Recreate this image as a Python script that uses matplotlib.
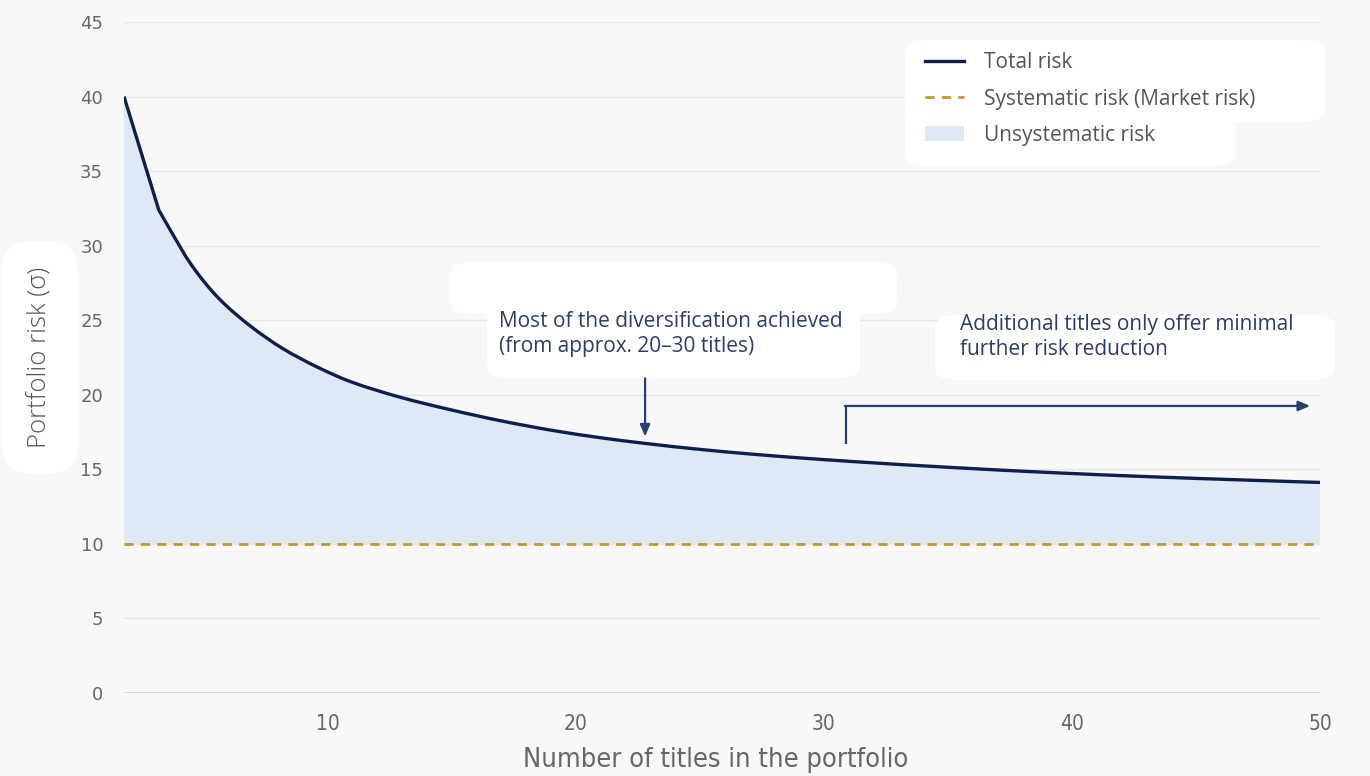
import matplotlib
matplotlib.use("Agg")
import matplotlib.pyplot as plt
from matplotlib.lines import Line2D
from matplotlib.patches import Patch, PathPatch, FancyBboxPatch
from matplotlib.path import Path

# Number of titles held and the resulting total portfolio risk (sigma)
x_titles = [1.8, 3.2, 3.7, 4.5, 5.6, 6.9, 8.2, 9.6, 10.9, 12.9, 15.0, 17.0,
            19.0, 21.0, 22.8, 25.0, 27.1, 29.1, 31.1, 35.1, 39.2, 43.2, 47.2, 50.0]
total_risk = [40.0, 32.4, 30.95, 28.75, 26.5, 24.6, 23.1, 21.85, 20.9, 19.85, 18.98, 18.25,
              17.63, 17.12, 16.74, 16.34, 16.02, 15.76, 15.53, 15.13, 14.78, 14.5, 14.27, 14.12]
market_risk = 10.0

x_ticks = [10, 20, 30, 40, 50]
y_ticks = [0, 5, 10, 15, 20, 25, 30, 35, 40, 45]

legend_labels = ["Total risk", "Systematic risk (Market risk)", "Unsystematic risk"]
note_core = "Most of the diversification achieved\n(from approx. 20\u201330 titles)"
note_tail = "Additional titles only offer minimal\nfurther risk reduction"
x_title = "Number of titles in the portfolio"
y_title = "Portfolio risk (\u03c3)"

NAVY = "#0f1f4d"
NOTE = "#2b3e6b"
GOLD = "#c8962e"
FILL = "#dfe8f5"
BG = "#f8f8f8"
TICK = "#666666"


def smooth_path(xs, ys):
    """Straight first segment, then a monotone cubic (Fritsch-Carlson) through the rest."""
    px, py = xs[1:], ys[1:]
    n = len(px)
    h = [px[i + 1] - px[i] for i in range(n - 1)]
    d = [(py[i + 1] - py[i]) / h[i] for i in range(n - 1)]
    m = [0.0] * n
    m[0], m[-1] = d[0], d[-1]
    for i in range(1, n - 1):
        if d[i - 1] * d[i] <= 0:
            m[i] = 0.0
        else:
            w1 = 2 * h[i] + h[i - 1]
            w2 = h[i] + 2 * h[i - 1]
            m[i] = (w1 + w2) / (w1 / d[i - 1] + w2 / d[i])
    verts = [(xs[0], ys[0]), (px[0], py[0])]
    codes = [Path.MOVETO, Path.LINETO]
    for i in range(n - 1):
        hh = h[i] / 3
        verts += [(px[i] + hh, py[i] + m[i] * hh),
                  (px[i + 1] - hh, py[i + 1] - m[i + 1] * hh),
                  (px[i + 1], py[i + 1])]
        codes += [Path.CURVE4] * 3
    return verts, codes


W, H = 1370, 776
fig = plt.figure(figsize=(W / 100, H / 100), dpi=100, facecolor=BG)
ax = fig.add_axes([124 / W, 1 - 693 / H, (1320 - 124) / W, (693 - 22) / H])
ax.set_facecolor(BG)


def blob(x0, y0, x1, y1, r=22):
    """White rounded panel given in figure pixels (top-left origin)."""
    p = FancyBboxPatch((x0 / W, 1 - y1 / H), (x1 - x0) / W, (y1 - y0) / H,
                       boxstyle=f"round,pad=0,rounding_size={r / W}",
                       transform=fig.transFigure, fc="white", ec="none", zorder=3.5)
    ax.add_artist(p)
    p.set_clip_on(False)


x0, x1 = x_titles[0], x_titles[-1]
ax.set_xlim(x0, x1)
ax.set_ylim(0, 45)

# horizontal grid
for yv in y_ticks:
    ax.axhline(yv, color="#d4d4d4" if yv == 0 else "#e6e6e6",
               lw=1.2 if yv == 0 else 1.0, zorder=0)

# unsystematic (diversifiable) band between total and market risk
verts, codes = smooth_path(x_titles, total_risk)
fill_verts = verts + [(x1, market_risk), (x0, market_risk), verts[0]]
fill_codes = codes + [Path.LINETO, Path.LINETO, Path.CLOSEPOLY]
ax.add_patch(PathPatch(Path(fill_verts, fill_codes), fc=FILL, ec="none", zorder=1))
ax.plot([x0, x1], [market_risk, market_risk], color=GOLD, lw=2.0,
        dashes=(3.3, 2.6), zorder=2)
ax.add_patch(PathPatch(Path(verts, codes), fc="none", ec=NAVY, lw=2.4,
                       joinstyle="round", capstyle="butt", zorder=3))

for s in ax.spines.values():
    s.set_visible(False)
ax.set_xticks(x_ticks)
ax.set_yticks(y_ticks)
ax.tick_params(length=0)
ax.tick_params(axis="y", pad=15, labelsize=13, labelcolor=TICK)
ax.tick_params(axis="x", pad=15, labelsize=15, labelcolor=TICK)
for lab in ax.get_xticklabels():
    lab.set_family("DejaVu Sans")
    lab.set_stretch("condensed")
for lab in ax.get_yticklabels():
    lab.set_family("DejaVu Sans")

ax.set_xlabel(x_title, fontsize=19.5, color=TICK, family="DejaVu Sans",
              fontstretch="condensed")
ax.xaxis.set_label_coords(0.495, -0.08)
ax.set_ylabel(y_title, fontsize=18.5, color="#555555", family="Open Sans", fontweight="light",
              bbox=dict(boxstyle="round,pad=1.0,rounding_size=1.2", fc="white", ec="none"))
ax.yaxis.set_label_coords(-0.060, 0.5)

# white panels behind the notes and the legend
blob(450, 262, 897, 314)
blob(487, 300, 860, 378)
blob(935, 315, 1335, 380)
blob(905, 40, 1325, 122)
blob(905, 110, 1235, 166)

# annotations
ax.text(16.9, 24.05, note_core, fontsize=15, color=NOTE, family="Open Sans",
        ha="left", va="center", linespacing=1.25, zorder=4)
ax.text(35.5, 23.87, note_tail, fontsize=15, color=NOTE, family="Open Sans",
        ha="left", va="center", linespacing=1.25, zorder=4)

ax.annotate("", xy=(22.8, 17.2), xytext=(22.8, 21.1),
            arrowprops=dict(arrowstyle="-|>,head_length=0.7,head_width=0.3",
                            color=NOTE, lw=1.6, shrinkA=0, shrinkB=0), zorder=4)
ax.plot([30.9, 30.9], [16.7, 19.25], color=NOTE, lw=1.6, zorder=4,
        solid_capstyle="butt")
ax.annotate("", xy=(49.6, 19.25), xytext=(30.85, 19.25),
            arrowprops=dict(arrowstyle="-|>,head_length=0.7,head_width=0.3",
                            color=NOTE, lw=1.6, shrinkA=0, shrinkB=0), zorder=4)

handles = [Line2D([], [], color=NAVY, lw=2.4),
           Line2D([], [], color=GOLD, lw=2.0, dashes=(3.3, 2.6)),
           Patch(facecolor=FILL, edgecolor="none")]
leg = ax.legend(handles, legend_labels, loc="upper left",
                bbox_to_anchor=(912 / W, 1 - 40 / H), bbox_transform=fig.transFigure,
                frameon=False, fontsize=15, handlelength=1.9, handletextpad=0.95,
                labelspacing=0.72, borderpad=0.6, borderaxespad=0)
leg.set_zorder(5)
for t in leg.get_texts():
    t.set_color("#555555")
    t.set_family("Open Sans")

fig.savefig("out.png", dpi=100, facecolor=BG)
